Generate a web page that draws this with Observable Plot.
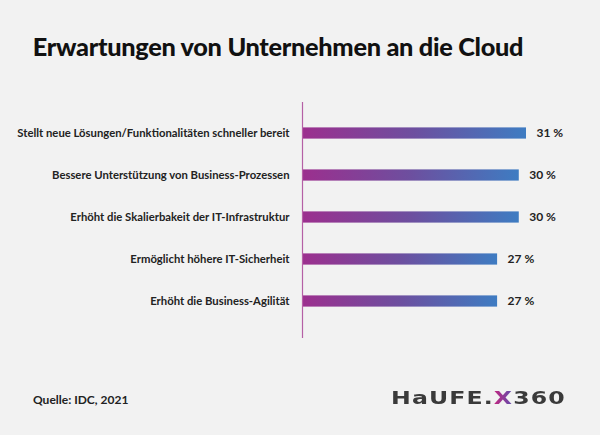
<!DOCTYPE html>
<html>
<head>
<meta charset="utf-8">
<script src="https://cdn.jsdelivr.net/npm/d3@7"></script>
<script src="https://cdn.jsdelivr.net/npm/@observablehq/plot@0.6"></script>
<style>
  html, body { margin: 0; padding: 0; background: #f2f2f2; }
  body { width: 600px; height: 435px; position: relative; overflow: hidden; font-family: Lato, "Noto Sans", sans-serif; }
  #title { position: absolute; left: 0; width: 556px; top: 31px; text-align: center; font-family: Lato, sans-serif; font-weight: 900; font-size: 25.3px; color: #111; letter-spacing: -0.3px; }
  #chart { position: absolute; left: 0; top: 95px; }
  #source { position: absolute; left: 33px; top: 392px; font-family: Lato, sans-serif; font-weight: 700; font-size: 12px; color: #222; }
  #logo { position: absolute; left: 391px; top: 388px; font-family: "DejaVu Sans", sans-serif; font-weight: bold; font-size: 17px; letter-spacing: 0.8px; color: #3a3a3a; transform: scaleX(1.39); transform-origin: left top; white-space: nowrap; }
  #logo .x { background: linear-gradient(90deg, #c2267f, #5b4fb0); -webkit-background-clip: text; background-clip: text; color: transparent; }
</style>
</head>
<body>
<div id="title">Erwartungen von Unternehmen an die Cloud</div>
<div id="chart"></div>
<div id="source">Quelle: IDC, 2021</div>
<div id="logo">HaUFE.<span class="x">X</span>360</div>
<script>
const categories = [
  "Stellt neue Lösungen/Funktionalitäten schneller bereit",
  "Bessere Unterstützung von Business-Prozessen",
  "Erhöht die Skalierbakeit der IT-Infrastruktur",
  "Ermöglicht höhere IT-Sicherheit",
  "Erhöht die Business-Agilität"
];
const values = [31, 30, 30, 27, 27];
const valueLabels = ["31 %", "30 %", "30 %", "27 %", "27 %"];

const data = categories.map((c, i) => ({category: c, value: values[i], label: valueLabels[i]}));

const gradientDefs = () => {
  const ns = "http://www.w3.org/2000/svg";
  const g = document.createElementNS(ns, "g");
  g.innerHTML = `<defs><linearGradient id="barGrad" x1="0" x2="1" y1="0" y2="0">
    <stop offset="0%" stop-color="#9c2f8e"/>
    <stop offset="50%" stop-color="#6d4f9f"/>
    <stop offset="100%" stop-color="#3e7cc2"/>
  </linearGradient></defs>`;
  return g;
};

const chart = Plot.plot({
  width: 600,
  height: 250,
  marginTop: 7,
  marginBottom: 7,
  marginLeft: 302,
  marginRight: 0,
  style: {background: "transparent", fontFamily: "Lato, sans-serif", color: "#222"},
  x: {domain: [0, 31], range: [302, 526], axis: null},
  y: {domain: categories, range: [15.3, 229.3], padding: 0, label: null},
  marks: [
    gradientDefs,
    Plot.barX(data, {x: "value", y: "category", fill: "url(#barGrad)", insetTop: 15.4, insetBottom: 15.4}),
    Plot.ruleX([0], {stroke: "#b560a6", strokeWidth: 1.2}),
    Plot.text(data, {x: "value", y: "category", text: "label", textAnchor: "start", dx: 10, fontWeight: "bold", fontSize: 12, fill: "#222"}),
    Plot.axisY({tickSize: 0, tickPadding: 13, fontSize: 11.3, fontWeight: "bold", fill: "#222", label: null})
  ]
});
document.getElementById("chart").appendChild(chart);
</script>
</body>
</html>
